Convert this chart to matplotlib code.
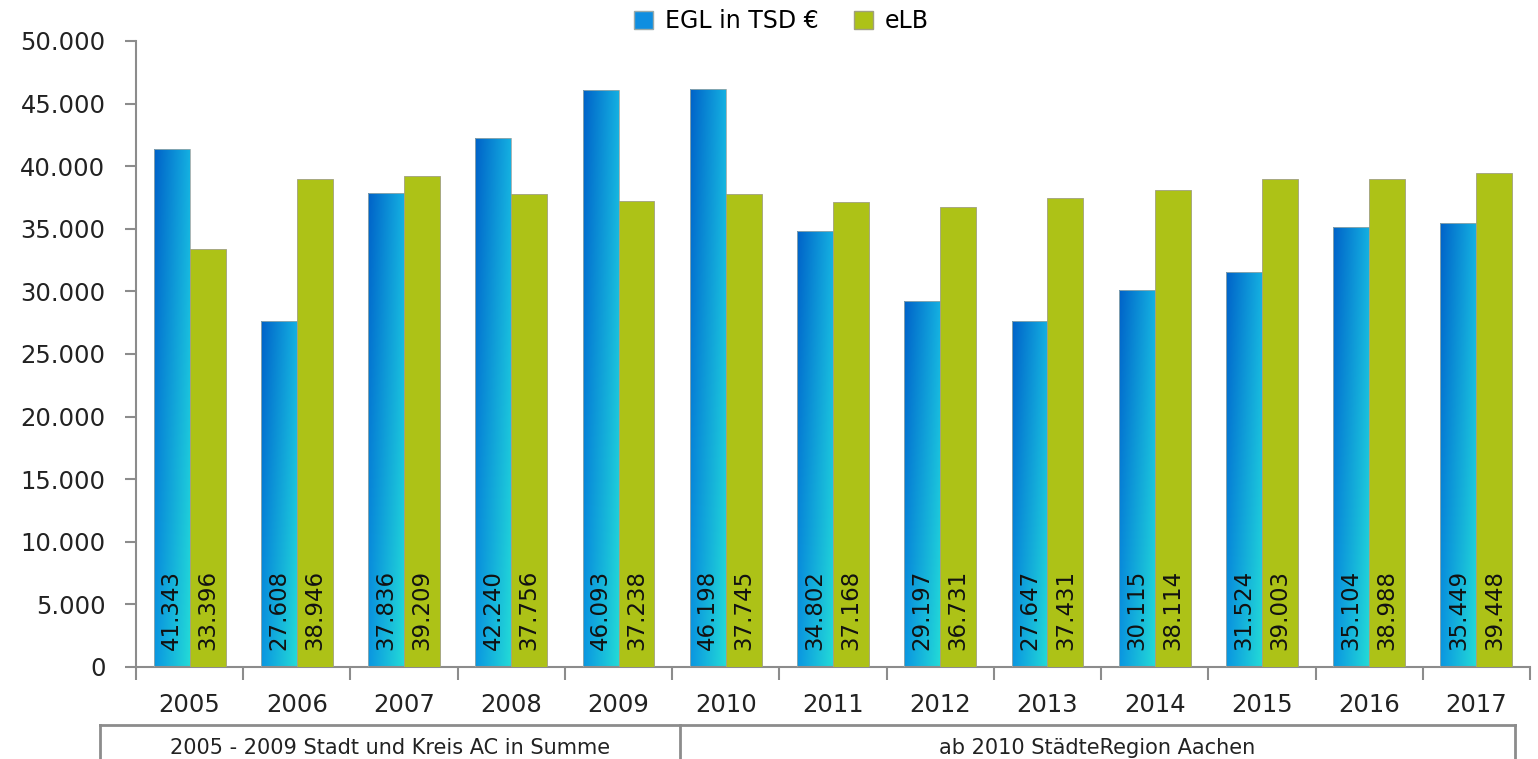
import matplotlib
matplotlib.use("Agg")
import matplotlib.pyplot as plt
from matplotlib.lines import Line2D
from matplotlib.patches import Patch
import numpy as np

years = ["2005", "2006", "2007", "2008", "2009", "2010", "2011",
         "2012", "2013", "2014", "2015", "2016", "2017"]
egl = [41343, 27608, 37836, 42240, 46093, 46198, 34802,
       29197, 27647, 30115, 31524, 35104, 35449]
elb = [33396, 38946, 39209, 37756, 37238, 37745, 37168,
       36731, 37431, 38114, 39003, 38988, 39448]
groups = ["2005 - 2009 Stadt und Kreis AC in Summe", "ab 2010 StädteRegion Aachen"]

GREEN = "#adc217"
AXIS = "#8c8c8c"


def fmt(v):
    return f"{v:,}".replace(",", ".")


def gradient_img(n=64):
    # corner colours: top-left, top-right, bottom-left, bottom-right
    tl = np.array([0, 98, 200]) / 255
    tr = np.array([20, 175, 225]) / 255
    bl = np.array([10, 150, 225]) / 255
    br = np.array([35, 218, 215]) / 255
    u = np.linspace(0, 1, n)[None, :, None]
    v = np.linspace(0, 1, n)[:, None, None]
    top = tl * (1 - u) + tr * u
    bot = bl * (1 - u) + br * u
    return top * (1 - v) + bot * v


fig = plt.figure(figsize=(15.38, 7.59), dpi=100)
ax = fig.add_axes([136 / 1538, 1 - 667 / 759, 1394 / 1538, 626 / 759])

x = np.arange(len(years))
w = 0.335
img = gradient_img()

blue_bars = ax.bar(x - w / 2, egl, w, color="none", edgecolor="#9aa", linewidth=0.6, zorder=3)
green_bars = ax.bar(x + w / 2, elb, w, color=GREEN, edgecolor="#a0a080", linewidth=0.6, zorder=3)

for b in blue_bars:
    x0, y0 = b.get_x(), b.get_y()
    im = ax.imshow(img, extent=[x0, x0 + b.get_width(), y0, y0 + b.get_height()],
                   aspect="auto", origin="upper", zorder=2.5, interpolation="bilinear")
    im.set_clip_path(b)

for bars, vals in ((blue_bars, egl), (green_bars, elb)):
    for b, v in zip(bars, vals):
        ax.annotate(fmt(v), (b.get_x() + b.get_width() / 2, 0), xytext=(0, 12),
                    textcoords="offset points", rotation=90, ha="center", va="bottom",
                    fontsize=16.5, color="#111", zorder=4)

ax.set_xlim(-0.5, len(years) - 0.5)
ax.set_ylim(0, 50000)
ax.set_yticks(np.arange(0, 50001, 5000))
ax.set_yticklabels([fmt(v) for v in range(0, 50001, 5000)], fontsize=17.5, color="#222")
ax.set_xticks(x)
ax.set_xticklabels(years, fontsize=17.5, color="#222")
ax.set_xticks(np.arange(-0.5, len(years)), minor=True)
ax.tick_params(axis="x", which="major", length=0, pad=19)
ax.tick_params(axis="x", which="minor", length=9, color=AXIS, width=1.5, direction="out")
ax.tick_params(axis="y", length=8, color=AXIS, width=1.5, pad=14)

for s in ("top", "right"):
    ax.spines[s].set_visible(False)
for s in ("left", "bottom"):
    ax.spines[s].set_color(AXIS)
    ax.spines[s].set_linewidth(1.5)

# legend
handles = [Patch(facecolor="#0f8ee0", edgecolor="#9aa"), Patch(facecolor=GREEN, edgecolor="#a0a080")]
fig.legend(handles, ["EGL in TSD €", "eLB"], loc="center", bbox_to_anchor=(0.508, 1 - 21 / 759),
           ncol=2, frameon=False, fontsize=17, handlelength=0.8, handleheight=0.8,
           columnspacing=1.5, handletextpad=0.5)

# grouping box below axis
def fx(px):
    return px / 1538


def fy(py):
    return 1 - py / 759


lines = [((100, 1515), (725, 725)), ((100, 100), (725, 759)),
         ((680, 680), (725, 759)), ((1515, 1515), (725, 759))]
for xs, ys in lines:
    fig.add_artist(Line2D([fx(xs[0]), fx(xs[1])], [fy(ys[0]), fy(ys[1])],
                          color=AXIS, linewidth=2, transform=fig.transFigure))
fig.text(fx(390), fy(748), groups[0], ha="center", va="center", fontsize=15, color="#222")
fig.text(fx(1097), fy(748), groups[1], ha="center", va="center", fontsize=15, color="#222")

fig.savefig("out.png", dpi=100)
